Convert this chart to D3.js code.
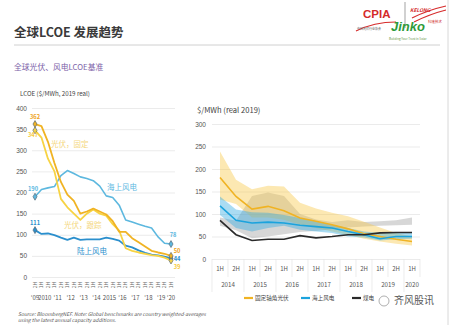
<!DOCTYPE html>
<html>
<head>
<meta charset="utf-8">
<script src="https://cdn.jsdelivr.net/npm/d3@7"></script>
<style>
  body { margin: 0; background: #fff; }
  svg { display: block; font-family: "Noto Sans CJK SC", "Noto Sans", sans-serif; }
  .grid line { stroke: #e6e6e6; stroke-width: 0.8; }
  .grid text { fill: #555; font-size: 6.5px; }
  .grid .domain { display: none; }
</style>
</head>
<body>
<div id="chart"></div>
<script>
// left chart: half-year benchmarks 2H 2009 .. 1H 2020
const leftHalf = ['2H','1H','2H','1H','2H','1H','2H','1H','2H','1H','2H','1H','2H','1H','2H','1H','2H','1H','2H','1H','2H','1H']
const leftYears = ["'09", '2010', "'11", "'12", "'13", "'14", '2015', "'16", "'17", "'18", "'19", "'20"]
const leftYearPos = [0, 1.5, 3.5, 5.5, 7.5, 9.5, 11.5, 13.5, 15.5, 17.5, 19.5, 21]
const leftTicks = [0, 50, 100, 150, 200, 250, 300, 350, 400]

const offshore = [190, 207, 211, 214, 240, 252, 245, 237, 233, 228, 215, 192, 188, 170, 135, 130, 125, 120, 116, 95, 80, 78]
const onshore = [111, 102, 103, 99, 93, 88, 93, 88, 89, 89, 89, 93, 90, 86, 74, 70, 63, 57, 53, 51, 48, 44]
const pvTracking = [362, 357, 320, 270, 225, 195, 180, 150, 155, 162, 155, 148, 132, 107, 107, 92, 82, 72, 62, 58, 55, 50]
const pvFixed = [347, 330, 280, 250, 185, 165, 150, 135, 150, 160, 150, 145, 125, 110, 68, 62, 58, 55, 52, 50, 46, 39]

// right chart: 1H 2014 .. 1H 2020
const rightHalf = ['1H','2H','1H','2H','1H','2H','1H','2H','1H','2H','1H','2H','1H']
const rightYears = ['2014', '2015', '2016', '2017', '2018', '2019', '2020']
const rightTicks = [0, 50, 100, 150, 200, 250, 300]

const pvLine = [181, 139, 111, 117, 107, 91, 84, 76, 67, 56, 50, 44, 39]
const pvLow = [132, 122, 92, 92, 87, 76, 69, 61, 54, 45, 39, 34, 30]
const pvHigh = [239, 176, 155, 163, 161, 125, 112, 103, 95, 83, 70, 58, 50]
const windLine = [118, 86, 80, 82, 80, 75, 72, 69, 61, 54, 45, 50, 50]
const windLow = [98, 69, 61, 69, 74, 65, 61, 58, 50, 48, 41, 44, 45]
const windHigh = [139, 110, 104, 103, 98, 91, 84, 76, 69, 61, 58, 58, 58]
const coalLine = [86, 54, 41, 44, 44, 52, 47, 50, 54, 54, 58, 59, 59]
const coalLow = [74, 64, 46, 50, 55, 60, 62, 66, 70, 72, 74, 75, 76]
const coalHigh = [92, 85, 140, 148, 140, 100, 88, 82, 86, 82, 84, 86, 92]

const legendNames = ['固定轴角光伏', '海上风电', '煤电']

let w = 454, h = 325

let svg = d3.select('#chart').append('svg')
  .attr('width', w)
  .attr('height', h)

svg.append('rect').attr('width', w).attr('height', h).attr('fill', '#fff')

// slide border on the right
svg.append('line')
  .attr('x1', 448).attr('x2', 448).attr('y1', 0).attr('y2', h)
  .attr('stroke', '#d8d8d8').attr('stroke-width', 1)

// header
svg.append('text')
  .attr('x', 14).attr('y', 37)
  .attr('font-size', 12.5).attr('font-weight', 'bold').attr('fill', '#3a3a3a')
  .text('全球LCOE 发展趋势')

svg.append('line')
  .attr('x1', 14).attr('x2', 440).attr('y1', 45).attr('y2', 45)
  .attr('stroke', '#c4c4c4').attr('stroke-width', 0.8)

svg.append('text')
  .attr('x', 14).attr('y', 70)
  .attr('font-size', 7.8).attr('fill', '#7c62a8')
  .text('全球光伏、风电LCOE基准')

// logo (rough)
let logo = svg.append('g')
logo.append('path')
  .attr('d', 'M356,31 Q374,22 396,22')
  .attr('fill', 'none').attr('stroke', '#d62b2b').attr('stroke-width', 1.2)
logo.append('text')
  .attr('x', 363).attr('y', 18)
  .attr('font-size', 11.5).attr('font-weight', 'bold').attr('fill', '#d42a2a')
  .attr('font-family', 'Liberation Sans Narrow, Liberation Sans, sans-serif')
  .text('CPIA')
logo.append('text')
  .attr('x', 357).attr('y', 30)
  .attr('font-size', 3).attr('fill', '#555')
  .text('中国光伏行业协会')
logo.append('line')
  .attr('x1', 405).attr('x2', 405).attr('y1', 2).attr('y2', 28)
  .attr('stroke', '#666').attr('stroke-width', 0.6)
logo.append('text')
  .attr('x', 410).attr('y', 12)
  .attr('font-size', 5).attr('font-style', 'italic').attr('font-weight', 'bold').attr('fill', '#d42a2a')
  .text('KELONG')
logo.append('path')
  .attr('d', 'M412,18 Q428,10 446,6 M414,22 Q430,14 446,10')
  .attr('fill', 'none').attr('stroke', '#d62b2b').attr('stroke-width', 1.2)
logo.append('text')
  .attr('x', 391).attr('y', 31)
  .attr('font-size', 13).attr('font-style', 'italic').attr('font-weight', 'bold').attr('fill', '#2e9a3a')
  .attr('font-family', 'Liberation Sans, sans-serif')
  .text('Jinko')
logo.append('text')
  .attr('x', 428).attr('y', 23)
  .attr('font-size', 3.5).attr('fill', '#c22')
  .text('科隆技术')
logo.append('text')
  .attr('x', 389).attr('y', 40)
  .attr('font-size', 3).attr('fill', '#6a9a4a')
  .text('Building Your Trust in Solar')

// ---------------- left chart ----------------
let lx = d3.scalePoint()
  .domain(d3.range(leftHalf.length))
  .range([35, 171])

let ly = d3.scaleLinear()
  .domain([0, 400])
  .range([277, 108])

svg.append('g')
  .attr('class', 'grid')
  .attr('transform', 'translate(32,0)')
  .call(d3.axisLeft(ly).tickValues(leftTicks).tickSize(-143).tickPadding(5))
  .selectAll('line')
  .attr('stroke', (d) => d === 0 ? 'none' : '#e6e6e6')

svg.append('text')
  .attr('x', 20).attr('y', 96)
  .attr('font-size', 6.2).attr('fill', '#444')
  .text('LCOE ($/MWh, 2019 real)')

// half-year tick labels, rotated
svg.append('g').selectAll('text')
  .data(leftHalf)
  .enter()
  .append('text')
  .attr('transform', (d, i) => `translate(${lx(i) + 1.8},${285}) rotate(-90)`)
  .attr('text-anchor', 'middle')
  .attr('font-size', 5).attr('fill', '#666')
  .text(d => d)

svg.append('g').selectAll('text')
  .data(leftYears)
  .enter()
  .append('text')
  .attr('x', (d, i) => {
    let p = leftYearPos[i]
    let a = lx(Math.floor(p)), b = lx(Math.ceil(p))
    return (a + b) / 2
  })
  .attr('y', 300)
  .attr('text-anchor', 'middle')
  .attr('font-size', 6).attr('fill', '#555')
  .text(d => d)

let leftLine = d3.line()
  .x((d, i) => lx(i))
  .y(d => ly(d))

let leftSeries = [
  { values: offshore, color: '#5db8df', width: 1.6 },
  { values: onshore, color: '#2b8fcd', width: 1.8 },
  { values: pvFixed, color: '#f7d343', width: 1.8 },
  { values: pvTracking, color: '#f0b323', width: 1.8 }
]

svg.append('g').selectAll('path')
  .data(leftSeries)
  .enter()
  .append('path')
  .attr('fill', 'none')
  .attr('stroke', d => d.color)
  .attr('stroke-width', d => d.width)
  .attr('stroke-linejoin', 'round')
  .attr('d', d => leftLine(d.values))

// end markers
let markerData = []
leftSeries.forEach(s => {
  markerData.push({ i: 0, v: s.values[0], c: s.color })
  markerData.push({ i: s.values.length - 1, v: s.values[s.values.length - 1], c: s.color })
})

svg.append('g').selectAll('path')
  .data(markerData)
  .enter()
  .append('path')
  .attr('transform', d => `translate(${lx(d.i)},${ly(d.v)})`)
  .attr('d', d3.symbol().type(d3.symbolDiamond).size(14))
  .attr('fill', d => d.c)
  .attr('stroke', '#5a6b78')
  .attr('stroke-width', 0.7)

// value labels at start / end
let valueLabels = [
  { text: pvTracking[0], i: 0, v: pvTracking[0], dx: 0, dy: -7, color: '#eea21a' },
  { text: pvFixed[0], i: 0, v: pvFixed[0], dx: -2, dy: 5.5, color: '#f5c93a' },
  { text: offshore[0], i: 0, v: offshore[0], dx: -2, dy: -7, color: '#5db8df' },
  { text: onshore[0], i: 0, v: onshore[0], dx: 0, dy: -7, color: '#2b8fcd' },
  { text: offshore[21], i: 21, v: offshore[21], dx: 2, dy: -9, color: '#5db8df' },
  { text: pvTracking[21], i: 21, v: pvTracking[21], dx: 6, dy: -4.6, color: '#eea21a' },
  { text: onshore[21], i: 21, v: onshore[21], dx: 6, dy: 1, color: '#2b8fcd' },
  { text: pvFixed[21], i: 21, v: pvFixed[21], dx: 6, dy: 7.2, color: '#f5c93a' }
]

svg.append('g').selectAll('text')
  .data(valueLabels)
  .enter()
  .append('text')
  .attr('x', d => lx(d.i) + d.dx)
  .attr('y', d => ly(d.v) + d.dy)
  .attr('text-anchor', 'middle')
  .attr('dominant-baseline', 'middle')
  .attr('font-size', 5.7).attr('font-weight', 'bold')
  .attr('fill', d => d.color)
  .text(d => d.text)

// series names
let seriesNames = [
  { text: '光伏，固定', x: 51, y: 145, color: '#f4d77e' },
  { text: '海上风电', x: 107, y: 188, color: '#5db8df' },
  { text: '光伏，跟踪', x: 64, y: 226, color: '#f4d77e' },
  { text: '陆上风电', x: 77, y: 252, color: '#2b8fcd' }
]

svg.append('g').selectAll('text')
  .data(seriesNames)
  .enter()
  .append('text')
  .attr('x', d => d.x).attr('y', d => d.y)
  .attr('dominant-baseline', 'middle')
  .attr('font-size', 7.5)
  .attr('fill', d => d.color)
  .text(d => d.text)

svg.append('text')
  .attr('x', 18).attr('y', 316)
  .attr('font-size', 5).attr('font-style', 'italic').attr('fill', '#555')
  .text('Source: BloombergNEF. Note: Global benchmarks are country weighted-averages')
svg.append('text')
  .attr('x', 18).attr('y', 322)
  .attr('font-size', 5).attr('font-style', 'italic').attr('fill', '#555')
  .text('using the latest annual capacity additions.')

// ---------------- right chart ----------------
let rx = d3.scaleBand()
  .domain(d3.range(rightHalf.length))
  .range([212, 420])

let ry = d3.scaleLinear()
  .domain([0, 300])
  .range([259, 124])

svg.append('g')
  .attr('class', 'grid')
  .attr('transform', 'translate(212,0)')
  .call(d3.axisLeft(ry).tickValues(rightTicks).tickSize(-208).tickPadding(6))
  .selectAll('text').attr('font-size', 7)

svg.append('text')
  .attr('x', 197).attr('y', 113)
  .attr('font-size', 7.6).attr('fill', '#444')
  .text('$/MWh (real 2019)')

let cx = i => rx(i) + rx.bandwidth() / 2

let band = (lo, hi) => d3.area()
  .x((d, i) => cx(i))
  .y0((d, i) => ry(lo[i]))
  .y1((d, i) => ry(hi[i]))(lo)

let rLine = d3.line()
  .x((d, i) => cx(i))
  .y(d => ry(d))

svg.append('path').attr('d', band(coalLow, coalHigh)).attr('fill', '#a0a0a0').attr('opacity', 0.42)
svg.append('path').attr('d', band(pvLow, pvHigh)).attr('fill', '#f7c948').attr('opacity', 0.42)
svg.append('path').attr('d', band(windLow, windHigh)).attr('fill', '#2aa8e2').attr('opacity', 0.4)

let rightSeries = [
  { values: pvLine, color: '#f0b323' },
  { values: windLine, color: '#1ba3dd' },
  { values: coalLine, color: '#2a2a2a' }
]

svg.append('g').selectAll('path')
  .data(rightSeries)
  .enter()
  .append('path')
  .attr('fill', 'none')
  .attr('stroke', d => d.color)
  .attr('stroke-width', 1.6)
  .attr('d', d => rLine(d.values))

// category separators
svg.append('g').selectAll('line')
  .data(d3.range(rightHalf.length + 1))
  .enter()
  .append('line')
  .attr('x1', i => 212 + i * rx.bandwidth())
  .attr('x2', i => 212 + i * rx.bandwidth())
  .attr('y1', 259)
  .attr('y2', i => i % 2 === 0 ? 292 : 277)
  .attr('stroke', '#e4e4e4').attr('stroke-width', 0.7)

svg.append('g').selectAll('text')
  .data(rightHalf)
  .enter()
  .append('text')
  .attr('x', (d, i) => cx(i))
  .attr('y', 271)
  .attr('text-anchor', 'middle')
  .attr('font-size', 6).attr('fill', '#555')
  .text(d => d)

svg.append('g').selectAll('text')
  .data(rightYears)
  .enter()
  .append('text')
  .attr('x', (d, i) => i === rightYears.length - 1 ? cx(2 * i) : (cx(2 * i) + cx(2 * i + 1)) / 2)
  .attr('y', 287)
  .attr('text-anchor', 'middle')
  .attr('font-size', 6.2).attr('fill', '#555')
  .text(d => d)

// legend
let legendX = [244, 301, 352]
let legend = svg.append('g').selectAll('g')
  .data(rightSeries)
  .enter()
  .append('g')
  .attr('transform', (d, i) => `translate(${legendX[i]},298)`)

legend.append('line')
  .attr('x1', 0).attr('x2', 9)
  .attr('stroke', d => d.color).attr('stroke-width', 2.2)

legend.append('text')
  .attr('x', 11).attr('dominant-baseline', 'middle')
  .attr('font-size', 5.6).attr('fill', '#444')
  .text((d, i) => legendNames[i])

// watermark
let wm = svg.append('g').attr('transform', 'translate(384,301)')
wm.append('circle').attr('r', 5).attr('fill', 'none').attr('stroke', '#9a9a9a').attr('stroke-width', 0.8)
wm.append('text')
  .attr('x', 10).attr('dominant-baseline', 'middle')
  .attr('font-size', 10).attr('fill', '#5a5a5a')
  .text('齐风股讯')
</script>
</body>
</html>
